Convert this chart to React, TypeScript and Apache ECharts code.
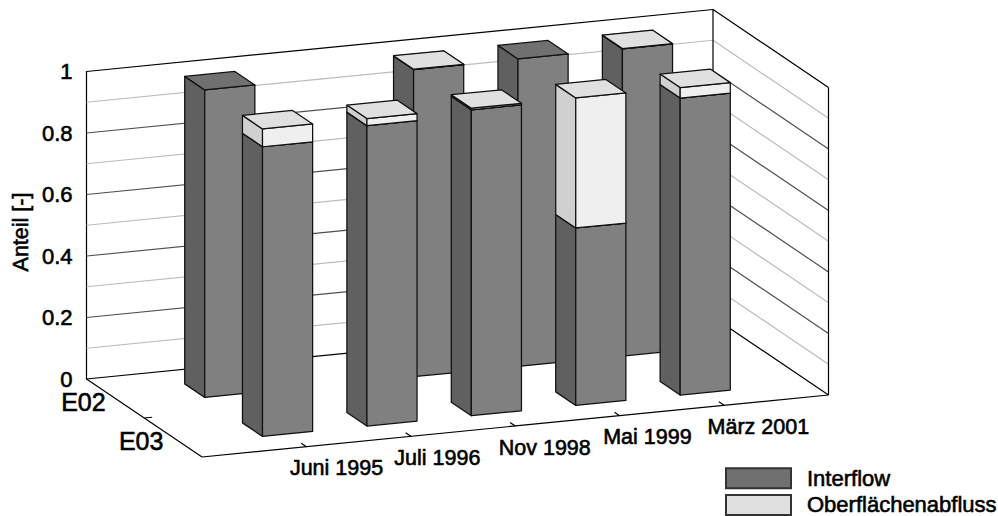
import React, { useEffect, useRef } from "react";
import * as echarts from "echarts";

const categories = ["Juni 1995", "Juli 1996", "Nov 1998", "Mai 1999", "März 2001"];
const stations = ["E02", "E03"];
const interflowE02 = [1, null, 0.999, 1, 0.999];
const surfaceE02 = [null, null, 0.001, null, 0.001];
const interflowE03 = [0.942, 0.977, 0.995, 0.577, 0.966];
const surfaceE03 = [0.058, 0.023, 0.005, 0.423, 0.034];
const majorTicks = [0, 0.2, 0.4, 0.6, 0.8, 1];
const minorTicks = [0.1, 0.3, 0.5, 0.7, 0.9];

const FONT = '"Liberation Sans", Arial, sans-serif';
const TEXT = "#000000";
const HEAVY = 0.6;
const G = { left: 86.5, top: 71.5, width: 626.5, height: 307.5 };
const X_MAX = 6;
const X_RISE = -62;
const DEPTH = { x: 115.5, y: 78 };
const BAR_W = 0.48;
const BAR_D = 0.1735;

const IF = { front: "#808080", side: "#606060", top: "#707070" };
const SF = { front: "#efefef", side: "#d0d0d0", top: "#e0e0e0" };

function project(api: any, x: number, d: number, z: number): number[] {
  const p = api.coord([x, z]);
  return [p[0] + DEPTH.x * d, p[1] + (X_RISE * x) / X_MAX + DEPTH.y * d];
}

function frameItem(api: any) {
  const line = (a: number[], b: number[], stroke: string, lineWidth = 1.2) => ({
    type: "line",
    shape: { x1: a[0], y1: a[1], x2: b[0], y2: b[1] },
    style: { stroke, lineWidth },
  });
  const P = (x: number, d: number, z: number) => project(api, x, d, z);
  const children: any[] = [];
  const wall = (z: number, stroke: string) => {
    children.push(line(P(0, 0, z), P(X_MAX, 0, z), stroke));
    children.push(line(P(X_MAX, 0, z), P(X_MAX, 1, z), stroke));
  };
  minorTicks.forEach((z) => wall(z, "#bcbcbc"));
  majorTicks.forEach((z) => wall(z, z === 0 || z === 1 ? "#000000" : "#505050"));
  children.push(line(P(0, 0, 0), P(0, 1, 0), "#000000"));
  children.push(line(P(0, 1, 0), P(X_MAX, 1, 0), "#000000"));
  children.push(line(P(X_MAX, 0, 0), P(X_MAX, 0, 1), "#000000"));
  children.push(line(P(X_MAX, 1, 0), P(X_MAX, 1, 1), "#000000"));
  categories.forEach((name, i) => {
    const t = P(i + 1, 1, 0);
    children.push(line(t, P(i + 1, 0.955, 0), "#000000"));
    children.push({
      type: "text",
      style: {
        text: name,
        x: t[0] - 16.5,
        y: t[1] + 21.5,
        font: `21.5px ${FONT}`,
        fill: TEXT,
        stroke: TEXT,
        lineWidth: HEAVY,
        align: "left",
        verticalAlign: "middle",
      },
    });
  });
  const mid = P(0, 0.5, 0);
  children.push(line(mid, P(0.075, 0.5, 0), "#000000"));
  stations.forEach((name, j) => {
    const t = P(0, (j + 0.5) / stations.length, 0);
    children.push({
      type: "text",
      style: {
        text: name,
        x: t[0] - 32,
        y: t[1] + 3,
        font: `25px ${FONT}`,
        fill: TEXT,
        stroke: TEXT,
        lineWidth: HEAVY,
        align: "center",
        verticalAlign: "middle",
      },
    });
  });
  return { type: "group", children };
}

function barItem(colors: typeof IF) {
  return (_p: any, api: any) => {
    const cat = api.value(0);
    const dc = api.value(1);
    const z0 = api.value(2);
    const z1 = api.value(3);
    const xa = cat - BAR_W / 2;
    const xb = cat + BAR_W / 2;
    const da = dc - BAR_D / 2;
    const db = dc + BAR_D / 2;
    const P = (x: number, d: number, z: number) => project(api, x, d, z);
    const poly = (points: number[][], fill: string) => ({
      type: "polygon",
      shape: { points },
      style: { fill, stroke: "#101010", lineWidth: 1.25, lineJoin: "round" },
    });
    return {
      type: "group",
      children: [
        poly([P(xa, da, z0), P(xa, db, z0), P(xa, db, z1), P(xa, da, z1)], colors.side),
        poly([P(xa, db, z0), P(xb, db, z0), P(xb, db, z1), P(xa, db, z1)], colors.front),
        poly([P(xa, da, z1), P(xb, da, z1), P(xb, db, z1), P(xa, db, z1)], colors.top),
      ],
    };
  };
}

function rows(depthIndex: number, lower: (number | null)[], values: (number | null)[]) {
  const out: number[][] = [];
  values.forEach((v, i) => {
    if (v === null) return;
    const base = lower === values ? 0 : (lower[i] as number);
    out.push([i + 1, (depthIndex + 0.5) / stations.length, base, base + v]);
  });
  return out;
}

function barSeries(name: string, colors: typeof IF, data: number[][]) {
  return {
    name,
    type: "custom",
    renderItem: barItem(colors),
    encode: { x: 0, y: 3 },
    data,
    silent: true,
    itemStyle: { color: colors.top, borderColor: "#333333", borderWidth: 1.2 },
  };
}

export default function App() {
  const ref = useRef<HTMLDivElement>(null);
  useEffect(() => {
    const chart = echarts.init(ref.current!, null, { renderer: "svg" });
    chart.setOption({
      animation: false,
      backgroundColor: "#ffffff",
      grid: { left: G.left, top: G.top, width: G.width, height: G.height },
      xAxis: { type: "value", min: 0, max: X_MAX, interval: 1, show: false },
      yAxis: {
        type: "value",
        min: 0,
        max: 1,
        interval: 0.2,
        axisLine: { show: true, lineStyle: { color: "#000000", width: 1.2 } },
        axisTick: { show: false },
        splitLine: { show: false },
        axisLabel: {
          color: TEXT,
          fontFamily: FONT,
          fontSize: 22,
          margin: 14,
          padding: [4, 0, 0, 0],
          textBorderColor: TEXT,
          textBorderWidth: HEAVY,
        },
      },
      legend: {
        left: 725,
        top: 467,
        width: 273,
        height: 100,
        orient: "vertical",
        icon: "rect",
        itemWidth: 65,
        itemHeight: 20,
        itemGap: 4,
        selectedMode: false,
        padding: 0,
        data: ["Interflow", "Oberflächenabfluss"],
        textStyle: {
          color: TEXT,
          fontFamily: FONT,
          fontSize: 22,
          lineHeight: 20,
          padding: [0, 0, 0, 11],
          textBorderColor: TEXT,
          textBorderWidth: HEAVY,
        },
      },
      graphic: [
        {
          type: "text",
          x: 21,
          y: 232,
          rotation: Math.PI / 2,
          style: {
            text: "Anteil [-]",
            font: `21.5px ${FONT}`,
            fill: TEXT,
            stroke: TEXT,
            lineWidth: HEAVY,
            align: "center",
            verticalAlign: "middle",
          },
        },
      ],
      series: [
        { type: "custom", renderItem: (_p: any, api: any) => frameItem(api), encode: { x: 0, y: 1 }, data: [[0, 0]], silent: true },
        barSeries("Interflow", IF, rows(0, interflowE02, interflowE02)),
        barSeries("Oberflächenabfluss", SF, rows(0, interflowE02, surfaceE02)),
        barSeries("Interflow", IF, rows(1, interflowE03, interflowE03)),
        barSeries("Oberflächenabfluss", SF, rows(1, interflowE03, surfaceE03)),
      ],
    });
    return () => chart.dispose();
  }, []);
  return <div ref={ref} style={{ position: "fixed", left: 0, top: 0, width: 998, height: 516 }} />;
}
